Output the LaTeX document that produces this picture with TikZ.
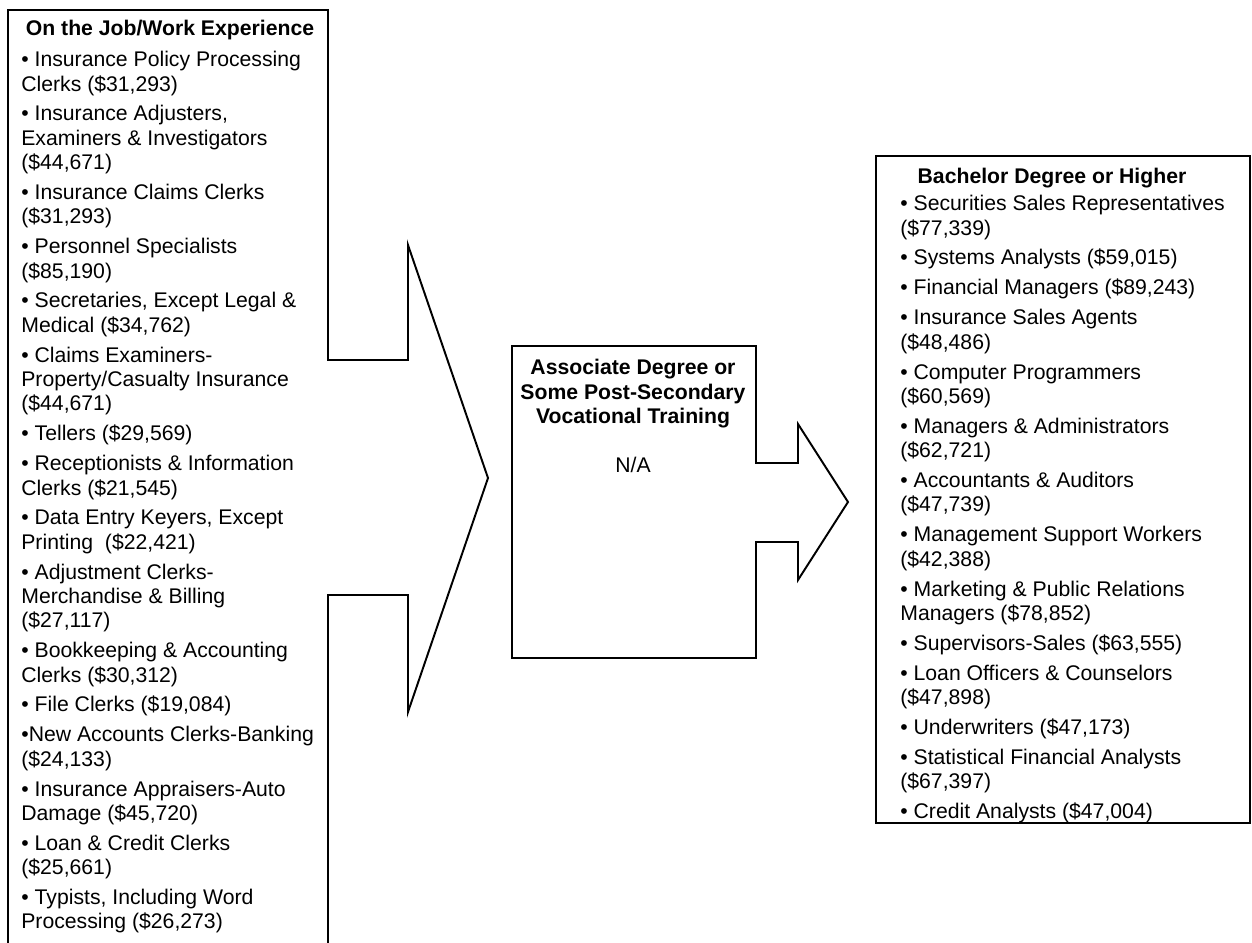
\documentclass[tikz,border=0pt]{standalone}
\usepackage{fontspec}
\setmainfont{Liberation Sans}

\tikzset{
  outline/.style={draw, line width=1.1pt, line join=miter},
  headtext/.style={inner sep=0pt, align=center, font=\fontsize{12}{13.75}\selectfont\bfseries},
  listtext/.style={anchor=north west, inner sep=0pt, align=left, font=\fontsize{12}{13.75}\selectfont},
}

\begin{document}
\begin{tikzpicture}[x=0.566pt, y=-0.566pt]

    %--------------------%
    % Parameters
    %--------------------%
    \def\itemgap{3.2pt}

    \useasboundingbox (0,0) rectangle (1252,943);

    %--------------------%
    % On the job box
    %--------------------%
    \draw[outline] (8,10) -- (328,10) -- (328,360) -- (408,360) -- (408,245)
        -- (488,478) -- (408,712) -- (408,595) -- (328,595) -- (328,960)
        -- (8,960) -- cycle;
    \node[headtext] (jobhead) at (170,30) {On the Job/Work Experience};
    \node[listtext] (joblist) at (21,51) {%
        • Insurance Policy Processing\\Clerks (\$31,293)\\[\itemgap]
        • Insurance Adjusters,\\Examiners \& Investigators\\(\$44,671)\\[\itemgap]
        • Insurance Claims Clerks\\(\$31,293)\\[\itemgap]
        • Personnel Specialists\\(\$85,190)\\[\itemgap]
        • Secretaries, Except Legal \&\\Medical (\$34,762)\\[\itemgap]
        • Claims Examiners-\\Property/Casualty Insurance\\(\$44,671)\\[\itemgap]
        • Tellers (\$29,569)\\[\itemgap]
        • Receptionists \& Information\\Clerks (\$21,545)\\[\itemgap]
        • Data Entry Keyers, Except\\Printing\ \ (\$22,421)\\[\itemgap]
        • Adjustment Clerks-\\Merchandise \& Billing\\(\$27,117)\\[\itemgap]
        • Bookkeeping \& Accounting\\Clerks (\$30,312)\\[\itemgap]
        • File Clerks (\$19,084)\\[\itemgap]
        •New Accounts Clerks-Banking\\(\$24,133)\\[\itemgap]
        • Insurance Appraisers-Auto\\Damage (\$45,720)\\[\itemgap]
        • Loan \& Credit Clerks\\(\$25,661)\\[\itemgap]
        • Typists, Including Word\\Processing (\$26,273)};

    %--------------------%
    % Associate box
    %--------------------%
    \draw[outline] (512,346) -- (756,346) -- (756,463) -- (798,463) -- (798,424)
        -- (848,502) -- (798,580) -- (798,542) -- (756,542) -- (756,658)
        -- (512,658) -- cycle;
    \node[headtext, anchor=north] (assochead) at (633,359)
        {Associate Degree or\\Some Post-Secondary\\Vocational Training};
    \node[font=\fontsize{12}{13.75}\selectfont, inner sep=0pt] (assocna) at (633,465) {N/A};

    %--------------------%
    % Bachelor box
    %--------------------%
    \draw[outline] (876,156) rectangle (1250,823);
    \node[headtext] (bachead) at (1052,178) {Bachelor Degree or Higher};
    \node[listtext] (baclist) at (900,195) {%
        • Securities Sales Representatives\\(\$77,339)\\[\itemgap]
        • Systems Analysts (\$59,015)\\[\itemgap]
        • Financial Managers (\$89,243)\\[\itemgap]
        • Insurance Sales Agents\\(\$48,486)\\[\itemgap]
        • Computer Programmers\\(\$60,569)\\[\itemgap]
        • Managers \& Administrators\\(\$62,721)\\[\itemgap]
        • Accountants \& Auditors\\(\$47,739)\\[\itemgap]
        • Management Support Workers\\(\$42,388)\\[\itemgap]
        • Marketing \& Public Relations\\Managers (\$78,852)\\[\itemgap]
        • Supervisors-Sales (\$63,555)\\[\itemgap]
        • Loan Officers \& Counselors\\(\$47,898)\\[\itemgap]
        • Underwriters (\$47,173)\\[\itemgap]
        • Statistical Financial Analysts\\(\$67,397)\\[\itemgap]
        • Credit Analysts (\$47,004)};
\end{tikzpicture}
\end{document}
